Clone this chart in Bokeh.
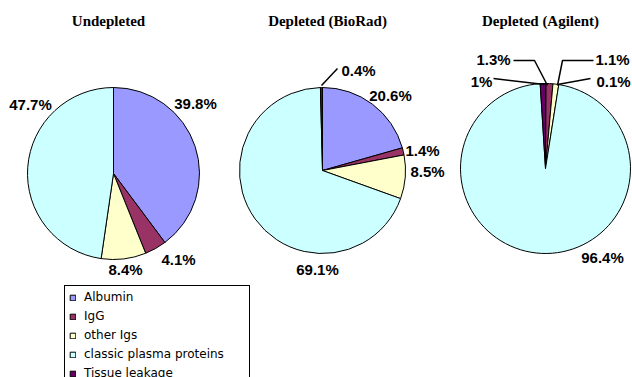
import math
from bokeh.plotting import figure
from bokeh.models import ColumnDataSource, Range1d, Legend, LegendItem
from bokeh.core.properties import value
from bokeh.embed import file_html
from bokeh.resources import INLINE

# ---------------- data ----------------
categories = ["Albumin", "IgG", "other Igs", "classic plasma proteins", "Tissue leakage"]
undepleted = [39.8, 4.1, 8.4, 47.7, 0.0]
biorad = [20.6, 1.4, 8.5, 69.1, 0.4]
agilent = [0.1, 1.3, 1.1, 96.4, 1.0]
titles = ["Undepleted", "Depleted (BioRad)", "Depleted (Agilent)"]
colors = ["#9999FF", "#993366", "#FFFFCC", "#CCFFFF", "#660066"]

# ---------------- layout (image pixel coords, y down) ----------------
W, H = 632, 377


def Y(y):
    return H - y


layout = [
    dict(cx=113, cy=173, r=86, title=(108, 20),
         labels=[(195, 103), (178, 259), (125, 269), (30, 104), None],
         leaders=[]),
    dict(cx=322, cy=170, r=83, title=(327, 20),
         labels=[(390, 95), (422, 150), (427, 171), (317, 269), (358, 70)],
         leaders=[[(321, 85), (337, 68)]]),
    dict(cx=545, cy=168, r=85, title=(540, 20),
         labels=[(613, 81), (493, 59), (612, 59), (602, 257), (481, 81)],
         leaders=[[(590, 78), (557, 84)],
                  [(513, 60), (534, 60), (547, 85)],
                  [(593, 60), (562, 60), (557, 85)],
                  [(493, 78), (544, 84)]]),
]
series = [undepleted, biorad, agilent]

p = figure(width=W, height=H, x_range=Range1d(0, W), y_range=Range1d(0, H),
           output_backend="svg", toolbar_location=None, min_border=0)
p.axis.visible = False
p.grid.visible = False
p.outline_line_color = None
p.background_fill_color = "white"

legend_renderer = None
for vals, lay, title in zip(series, layout, titles):
    total = sum(vals)
    cum = 0.0
    cats, vv, starts, ends, cols = [], [], [], [], []
    for c, v, col in zip(categories, vals, colors):
        a0 = math.pi / 2 - 2 * math.pi * cum / total
        cum += v
        a1 = math.pi / 2 - 2 * math.pi * cum / total
        if v <= 0:
            continue
        cats.append(c)
        vv.append(v)
        starts.append(a0)
        ends.append(a1)
        cols.append(col)
    src = ColumnDataSource(dict(cat=cats, val=vv, start=starts, end=ends, color=cols))
    rend = p.wedge(x=lay["cx"], y=Y(lay["cy"]), radius=lay["r"],
                   start_angle="start", end_angle="end", direction="clock",
                   fill_color="color", line_color="black", line_width=1, source=src)
    if legend_renderer is None and len(cats) == len(categories):
        legend_renderer = rend

    # leader lines
    if lay["leaders"]:
        xs = [[pt[0] for pt in ln] for ln in lay["leaders"]]
        ys = [[Y(pt[1]) for pt in ln] for ln in lay["leaders"]]
        p.multi_line(xs=xs, ys=ys, line_color="black", line_width=1.5)

    # percentage labels
    lx, ly, lt = [], [], []
    for v, pos in zip(vals, lay["labels"]):
        if pos is None or v == 0:
            continue
        lx.append(pos[0])
        ly.append(Y(pos[1]))
        lt.append(f"{v:g}%")
    p.text(x=lx, y=ly, text=lt, text_align="center", text_baseline="middle",
           text_font=value("Liberation Sans"), text_font_size="15px",
           text_font_style="bold", text_color="black")

    # title
    p.text(x=[lay["title"][0]], y=[Y(lay["title"][1])], text=[title],
           text_align="center", text_baseline="middle",
           text_font=value("Liberation Serif"), text_font_size="15px",
           text_font_style="bold", text_color="black")

legend = Legend(
    items=[LegendItem(label=c, renderers=[legend_renderer], index=i) for i, c in enumerate(categories)],
    location=(64, -8),
    orientation="vertical",
    border_line_color="black", border_line_width=1, border_line_alpha=1,
    background_fill_color="white", background_fill_alpha=1,
    label_text_font="DejaVu Sans", label_text_font_size="12px", label_text_color="black",
    glyph_width=7, glyph_height=7, label_standoff=8, padding=4, spacing=5,
    margin=0, label_height=14, label_width=161,
)
p.add_layout(legend)

open("out.html", "w").write(file_html(p, INLINE))
